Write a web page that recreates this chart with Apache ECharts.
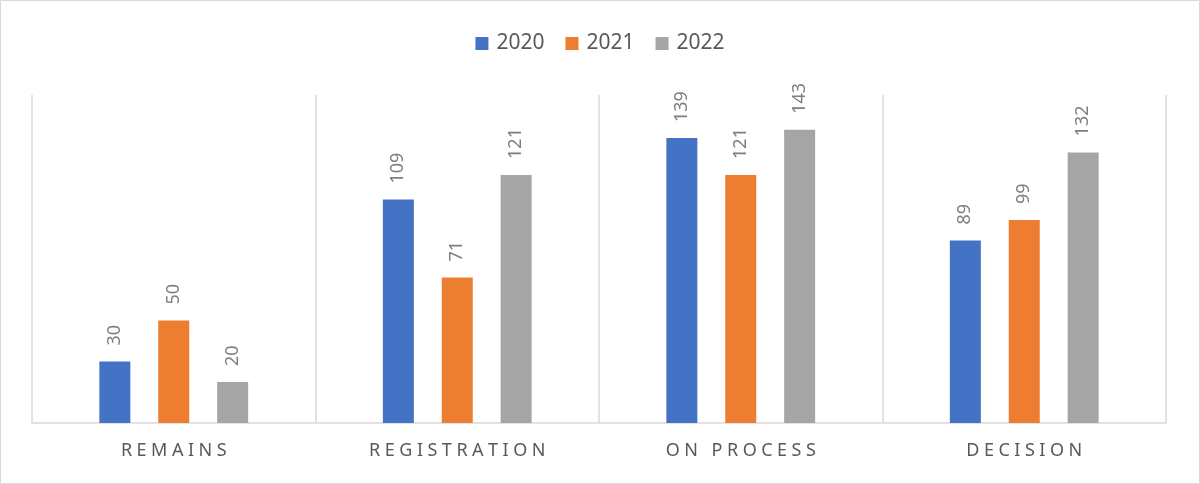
<!DOCTYPE html>
<html>
<head>
<meta charset="utf-8">
<script src="https://cdn.jsdelivr.net/npm/echarts@6/dist/echarts.min.js"></script>
<style>
  html, body { margin: 0; padding: 0; background: #fff; }
  #main { width: 1200px; height: 484px; }
</style>
</head>
<body>
<div id="main"></div>
<script>
// categories and yearly values
const categories = ['REMAINS', 'REGISTRATION', 'ON PROCESS', 'DECISION'];
const years = ['2020', '2021', '2022'];
const values2020 = [30, 109, 139, 89];
const values2021 = [50, 71, 121, 99];
const values2022 = [20, 121, 143, 132];
const colors = ['#4472C4', '#ED7D31', '#A5A5A5'];

const chart = echarts.init(document.getElementById('main'));

// one bar series per year
function makeSeries(name, data, color) {
  return {
    name: name,
    type: 'bar',
    data: data,
    barWidth: 31,
    barGap: '90%',
    itemStyle: { color: color },
    label: {
      show: true,
      position: 'top',
      rotate: 90,
      align: 'left',
      verticalAlign: 'middle',
      distance: 16,
      color: '#7F7F7F',
      fontSize: 18,
      fontFamily: 'Noto Sans'
    }
  };
}

const option = {
  animation: false,
  textStyle: { fontFamily: 'Noto Sans' },
  color: colors,
  graphic: [{
    type: 'rect',
    shape: { x: 0.5, y: 0.5, width: 1199, height: 483 },
    style: { fill: 'none', stroke: '#D9D9D9', lineWidth: 1 },
    silent: true
  }],
  legend: {
    top: 28,
    left: 'center',
    itemWidth: 13,
    itemHeight: 13,
    itemGap: 21,
    icon: 'rect',
    textStyle: { fontSize: 21, color: '#595959', fontFamily: 'Noto Sans', padding: [0, 0, 0, 3] },
    data: years
  },
  grid: { left: 32, right: 34, top: 95, bottom: 61, containLabel: false },
  xAxis: {
    type: 'category',
    data: categories,
    axisLine: { lineStyle: { color: '#D9D9D9', width: 1.5 } },
    axisTick: { show: false },
    splitLine: { show: true, interval: 0, lineStyle: { color: '#D9D9D9', width: 1.5 } },
    axisLabel: {
      margin: 19,
      fontSize: 18,
      color: '#595959',
      // spread the letters like the original's character spacing
      formatter: function (v) { return v.split('').join('\u2005'); }
    }
  },
  yAxis: {
    type: 'value',
    min: 0,
    max: 160,
    show: false,
    splitLine: { show: false }
  },
  series: [
    makeSeries(years[0], values2020, colors[0]),
    makeSeries(years[1], values2021, colors[1]),
    makeSeries(years[2], values2022, colors[2])
  ]
};

chart.setOption(option);
</script>
</body>
</html>
